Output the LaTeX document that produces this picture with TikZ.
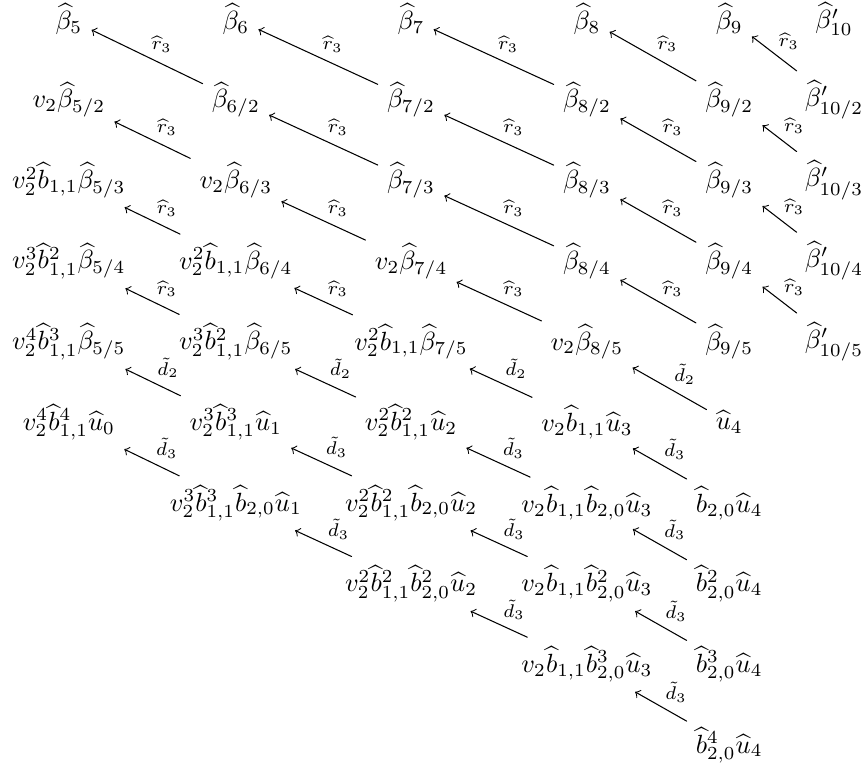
\documentclass[tikz,border=0pt]{standalone}
\usepackage{amsmath,amssymb}
\tikzset{lbl/.style={above right, inner sep=1.5pt, font=\scriptsize}}
\begin{document}
\begin{tikzpicture}[yscale=1.0776, line join=round, line cap=round, >=to]
\useasboundingbox (0,0.2355) rectangle (11.58,-9.2355);
% row 0
\node (n00) at (0.92,0) {$\widehat{\beta}_5$};
\node (n01) at (3.15,0) {$\widehat{\beta}_6$};
\node (n02) at (5.49,0) {$\widehat{\beta}_7$};
\node (n03) at (7.84,0) {$\widehat{\beta}_8$};
\node (n04) at (9.74,0) {$\widehat{\beta}_9$};
\node (n05) at (11.14,0) {$\widehat{\beta}'_{10}$};
% row 1
\node (n10) at (0.92,-1) {$v_2\widehat{\beta}_{5/2}$};
\node (n11) at (3.15,-1) {$\widehat{\beta}_{6/2}$};
\node (n12) at (5.49,-1) {$\widehat{\beta}_{7/2}$};
\node (n13) at (7.84,-1) {$\widehat{\beta}_{8/2}$};
\node (n14) at (9.74,-1) {$\widehat{\beta}_{9/2}$};
\node (n15) at (11.14,-1) {$\widehat{\beta}'_{10/2}$};
% row 2
\node (n20) at (0.92,-2) {$v_2^2\widehat{b}_{1,1}\widehat{\beta}_{5/3}$};
\node (n21) at (3.15,-2) {$v_2\widehat{\beta}_{6/3}$};
\node (n22) at (5.49,-2) {$\widehat{\beta}_{7/3}$};
\node (n23) at (7.84,-2) {$\widehat{\beta}_{8/3}$};
\node (n24) at (9.74,-2) {$\widehat{\beta}_{9/3}$};
\node (n25) at (11.14,-2) {$\widehat{\beta}'_{10/3}$};
% row 3
\node (n30) at (0.92,-3) {$v_2^3\widehat{b}^2_{1,1}\widehat{\beta}_{5/4}$};
\node (n31) at (3.15,-3) {$v_2^2\widehat{b}_{1,1}\widehat{\beta}_{6/4}$};
\node (n32) at (5.49,-3) {$v_2\widehat{\beta}_{7/4}$};
\node (n33) at (7.84,-3) {$\widehat{\beta}_{8/4}$};
\node (n34) at (9.74,-3) {$\widehat{\beta}_{9/4}$};
\node (n35) at (11.14,-3) {$\widehat{\beta}'_{10/4}$};
% row 4
\node (n40) at (0.92,-4) {$v_2^4\widehat{b}^3_{1,1}\widehat{\beta}_{5/5}$};
\node (n41) at (3.15,-4) {$v_2^3\widehat{b}^2_{1,1}\widehat{\beta}_{6/5}$};
\node (n42) at (5.49,-4) {$v_2^2\widehat{b}_{1,1}\widehat{\beta}_{7/5}$};
\node (n43) at (7.84,-4) {$v_2\widehat{\beta}_{8/5}$};
\node (n44) at (9.74,-4) {$\widehat{\beta}_{9/5}$};
\node (n45) at (11.14,-4) {$\widehat{\beta}'_{10/5}$};
% row 5
\node (n50) at (0.92,-5) {$v_2^4\widehat{b}^4_{1,1}\widehat{u}_0$};
\node (n51) at (3.15,-5) {$v_2^3\widehat{b}^3_{1,1}\widehat{u}_1$};
\node (n52) at (5.49,-5) {$v_2^2\widehat{b}^2_{1,1}\widehat{u}_2$};
\node (n53) at (7.84,-5) {$v_2\widehat{b}_{1,1}\widehat{u}_3$};
\node (n54) at (9.74,-5) {$\widehat{u}_4$};
% row 6
\node (n61) at (3.15,-6) {$v_2^3\widehat{b}^3_{1,1}\widehat{b}_{2,0}\widehat{u}_1$};
\node (n62) at (5.49,-6) {$v_2^2\widehat{b}^2_{1,1}\widehat{b}_{2,0}\widehat{u}_2$};
\node (n63) at (7.84,-6) {$v_2\widehat{b}_{1,1}\widehat{b}_{2,0}\widehat{u}_3$};
\node (n64) at (9.74,-6) {$\widehat{b}_{2,0}\widehat{u}_4$};
% row 7
\node (n72) at (5.49,-7) {$v_2^2\widehat{b}^2_{1,1}\widehat{b}^2_{2,0}\widehat{u}_2$};
\node (n73) at (7.84,-7) {$v_2\widehat{b}_{1,1}\widehat{b}^2_{2,0}\widehat{u}_3$};
\node (n74) at (9.74,-7) {$\widehat{b}^2_{2,0}\widehat{u}_4$};
% rows 8, 9
\node (n83) at (7.84,-8) {$v_2\widehat{b}_{1,1}\widehat{b}^3_{2,0}\widehat{u}_3$};
\node (n84) at (9.74,-8) {$\widehat{b}^3_{2,0}\widehat{u}_4$};
\node (n94) at (9.74,-9) {$\widehat{b}^4_{2,0}\widehat{u}_4$};
% r3 arrows
\draw[->] (n11)--(n00) node[lbl,midway]{$\widehat{r}_3$};
\draw[->] (n12)--(n01) node[lbl,midway]{$\widehat{r}_3$};
\draw[->] (n13)--(n02) node[lbl,midway]{$\widehat{r}_3$};
\draw[->] (n14)--(n03) node[lbl,midway]{$\widehat{r}_3$};
\draw[->] (n15)--(n04) node[lbl,midway]{$\widehat{r}_3$};
\draw[->] (n21)--(n10) node[lbl,midway]{$\widehat{r}_3$};
\draw[->] (n22)--(n11) node[lbl,midway]{$\widehat{r}_3$};
\draw[->] (n23)--(n12) node[lbl,midway]{$\widehat{r}_3$};
\draw[->] (n24)--(n13) node[lbl,midway]{$\widehat{r}_3$};
\draw[->] (n25)--(n14) node[lbl,midway]{$\widehat{r}_3$};
\draw[->] (n31)--(n20) node[lbl,midway]{$\widehat{r}_3$};
\draw[->] (n32)--(n21) node[lbl,midway]{$\widehat{r}_3$};
\draw[->] (n33)--(n22) node[lbl,midway]{$\widehat{r}_3$};
\draw[->] (n34)--(n23) node[lbl,midway]{$\widehat{r}_3$};
\draw[->] (n35)--(n24) node[lbl,midway]{$\widehat{r}_3$};
\draw[->] (n41)--(n30) node[lbl,midway]{$\widehat{r}_3$};
\draw[->] (n42)--(n31) node[lbl,midway]{$\widehat{r}_3$};
\draw[->] (n43)--(n32) node[lbl,midway]{$\widehat{r}_3$};
\draw[->] (n44)--(n33) node[lbl,midway]{$\widehat{r}_3$};
\draw[->] (n45)--(n34) node[lbl,midway]{$\widehat{r}_3$};
% d2 arrows
\draw[->] (n51)--(n40) node[lbl,midway]{$\tilde{d}_2$};
\draw[->] (n52)--(n41) node[lbl,midway]{$\tilde{d}_2$};
\draw[->] (n53)--(n42) node[lbl,midway]{$\tilde{d}_2$};
\draw[->] (n54)--(n43) node[lbl,midway]{$\tilde{d}_2$};
% d3 arrows
\draw[->] (n61)--(n50) node[lbl,midway]{$\tilde{d}_3$};
\draw[->] (n62)--(n51) node[lbl,midway]{$\tilde{d}_3$};
\draw[->] (n63)--(n52) node[lbl,midway]{$\tilde{d}_3$};
\draw[->] (n64)--(n53) node[lbl,midway]{$\tilde{d}_3$};
\draw[->] (n72)--(n61) node[lbl,midway]{$\tilde{d}_3$};
\draw[->] (n73)--(n62) node[lbl,midway]{$\tilde{d}_3$};
\draw[->] (n74)--(n63) node[lbl,midway]{$\tilde{d}_3$};
\draw[->] (n83)--(n72) node[lbl,midway]{$\tilde{d}_3$};
\draw[->] (n84)--(n73) node[lbl,midway]{$\tilde{d}_3$};
\draw[->] (n94)--(n83) node[lbl,midway]{$\tilde{d}_3$};
\end{tikzpicture}
\end{document}
